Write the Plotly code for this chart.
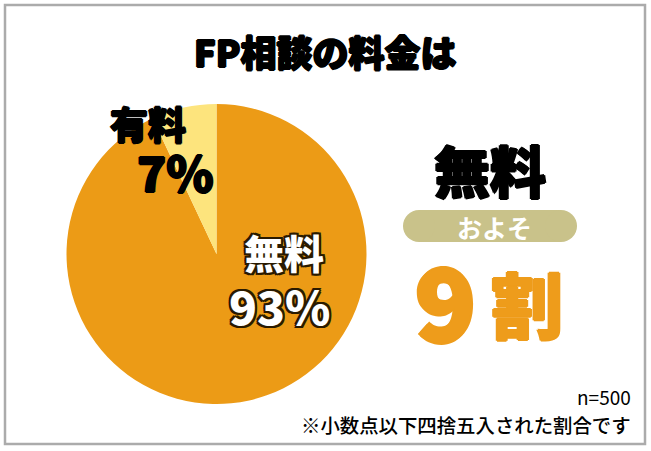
import plotly.graph_objects as go

# ---- data ----
labels = ["無料", "有料"]
values = [93, 7]
colors = ["#EC9B16", "#FDE47D"]
title_text = "FP相談の料金は"
headline_label = "無料"
approx_text = "およそ"
headline_num = "9"
headline_unit = "割"
sample_note = "n=500"
rounding_note = "※小数点以下四捨五入された割合です"

W, H = 651, 451
FONT = "Noto Sans CJK JP"


def px(x):
    return x / W


def py(y):
    return 1 - y / H


fig = go.Figure()
fig.add_trace(go.Pie(
    labels=labels,
    values=values,
    marker=dict(colors=colors, line=dict(width=0)),
    sort=False,
    direction="clockwise",
    rotation=0,
    textinfo="none",
    hoverinfo="label+percent",
    showlegend=False,
    domain=dict(x=[px(66.5), px(366.5)], y=[py(404), py(104)]),
))


def ring(color, d):
    pts = [(-d, -d), (d, -d), (-d, d), (d, d), (0, d), (0, -d), (d, 0), (-d, 0)]
    return ", ".join(f"{dx}px {dy}px 0 {color}" for dx, dy in pts)


def thick(color, d=0.8):
    pts = [(d, 0), (-d, 0), (0, d), (0, -d)]
    return ", ".join(f"{dx}px {dy}px 0 {color}" for dx, dy in pts)


ann = []


def add_text(text, x, y, size, color="#000", weight=900, xanchor="center", shadow="none"):
    ann.append(dict(text=text, x=px(x), y=py(y), xref="paper", yref="paper",
                    xanchor=xanchor, yanchor="middle", showarrow=False,
                    font=dict(family=FONT, size=size, color=color, weight=weight, shadow=shadow)))


# title
add_text(title_text, 325, 51, 36, shadow=thick("#000", 0.9))
# pie labels
add_text(labels[1], 148, 122, 38, shadow=thick("#000", 0.9))
add_text(f"{values[1]}%", 175, 171, 48, shadow=thick("#000", 1))
add_text(labels[0], 284, 252, 40, color="#ffffff", shadow=ring("#2a1a00", 2))
add_text(f"{values[0]}%", 279, 305, 46, color="#ffffff", shadow=ring("#2a1a00", 2))
# right block
add_text(headline_label, 490, 168, 56, shadow=thick("#000", 1.2))
add_text(approx_text, 494, 227, 25, color="#ffffff", weight=700)
add_text(headline_num, 445, 298, 100, color="#EE9C1B", shadow=thick("#EE9C1B", 2))
add_text(headline_unit, 527, 301, 72, color="#EE9C1B", shadow=thick("#EE9C1B", 1.2))
# notes
add_text(sample_note, 633, 396, 19, weight=400, xanchor="right")
add_text(rounding_note, 633, 424, 19.4, weight=500, xanchor="right")

pill = "#C9C28A"
shapes = [
    dict(type="rect", xref="paper", yref="paper", x0=px(5), x1=px(645), y0=py(444), y1=py(5),
         line=dict(color="#ABABAB", width=2.5), fillcolor="rgba(0,0,0,0)"),
    dict(type="rect", xref="paper", yref="paper", x0=px(419), x1=px(561), y0=py(242), y1=py(210),
         line=dict(width=0), fillcolor=pill, layer="below"),
    dict(type="circle", xref="paper", yref="paper", x0=px(403), x1=px(435), y0=py(242), y1=py(210),
         line=dict(width=0), fillcolor=pill, layer="below"),
    dict(type="circle", xref="paper", yref="paper", x0=px(545), x1=px(577), y0=py(242), y1=py(210),
         line=dict(width=0), fillcolor=pill, layer="below"),
]

fig.update_layout(
    width=W, height=H,
    margin=dict(l=0, r=0, t=0, b=0),
    paper_bgcolor="#ffffff",
    plot_bgcolor="#ffffff",
    annotations=ann,
    shapes=shapes,
)

fig.write_html(
    "out.html",
    config={"displayModeBar": False},
    post_script="document.body.style.margin='0';document.body.style.padding='0';",
)
